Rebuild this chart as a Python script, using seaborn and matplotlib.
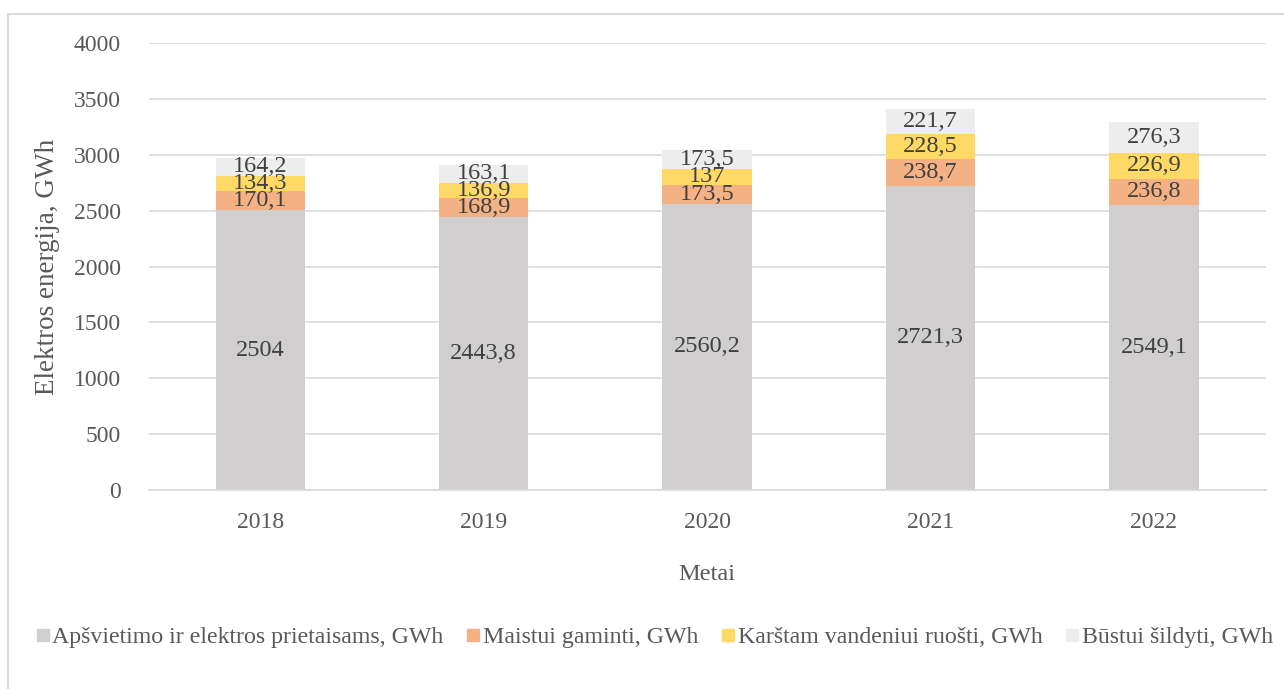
from matplotlib import pyplot as plt
from matplotlib.patches import Rectangle
from matplotlib.lines import Line2D
import seaborn as sns
import pandas as pd
import numpy as np

metai = ["2018", "2019", "2020", "2021", "2022"]
apsvietimas = [2504, 2443.8, 2560.2, 2721.3, 2549.1]
maistas = [170.1, 168.9, 173.5, 238.7, 236.8]
karstas_vanduo = [134.3, 136.9, 137, 228.5, 226.9]
sildymas = [164.2, 163.1, 173.5, 221.7, 276.3]

serijos = [
    ("Apšvietimo ir elektros prietaisams, GWh", apsvietimas, "#D0CECE"),
    ("Maistui gaminti, GWh", maistas, "#F4B183"),
    ("Karštam vandeniui ruošti, GWh", karstas_vanduo, "#FFD966"),
    ("Būstui šildyti, GWh", sildymas, "#EDEDED"),
]

sns.set_theme(style="white")
plt.rcParams["font.family"] = ["Liberation Serif", "DejaVu Serif"]
tekstas = "#404040"

figure = plt.figure(figsize=(12.84, 6.89), dpi=100)
axis = figure.add_axes([0.1157, 0.2888, 0.87, 0.6488])

reiksmes = np.array([s[1] for s in serijos])
sumos = np.cumsum(reiksmes, axis=0)

# piesiam nuo auksciausio, kad susidarytu sudeti stulpeliai
for i in range(len(serijos) - 1, -1, -1):
    df = pd.DataFrame({"Metai": metai, "Reiksme": sumos[i]})
    sns.barplot(data=df, x="Metai", y="Reiksme", color=serijos[i][2],
                saturation=1, width=0.4, linewidth=0, ax=axis, zorder=2)

for i, (vardas, vals, spalva) in enumerate(serijos):
    for j, v in enumerate(vals):
        apacia = sumos[i][j] - v
        txt = f"{v:g}".replace(".", ",")
        axis.text(j, apacia + v / 2, txt, ha="center", va="center",
                  fontsize=17.5, color=tekstas, zorder=3)

axis.set_ylim(0, 4000)
axis.set_yticks(range(0, 4001, 500))
axis.yaxis.grid(True, color="#D9D9D9", linewidth=1.2, zorder=0)
axis.set_axisbelow(True)
for s in ["top", "right", "left"]:
    axis.spines[s].set_visible(False)
axis.spines["bottom"].set_color("#D9D9D9")
axis.spines["bottom"].set_linewidth(1.2)
axis.tick_params(axis="both", length=0, labelsize=17, labelcolor="#595959")
axis.tick_params(axis="x", pad=16)
axis.tick_params(axis="y", pad=20)
axis.set_xlabel("Metai", fontsize=17.5, color="#595959", labelpad=22)
axis.set_ylabel("Elektros energija, GWh", fontsize=19.5, color="#595959", labelpad=10)

rankenos = [Line2D([], [], marker="s", linestyle="", markersize=9,
                   markerfacecolor=s[2], markeredgecolor=s[2]) for s in serijos]
figure.legend(rankenos, [s[0] for s in serijos], loc="center",
              bbox_to_anchor=(0.51, 0.075), ncol=4, frameon=False,
              fontsize=17.2, labelcolor="#595959", handlelength=0.5,
              handletextpad=0.15, columnspacing=1.0)

figure.patches.append(Rectangle((8 / 1284, -0.05), 1.2, 1 - 14 / 689 + 0.05,
                                transform=figure.transFigure, fill=False,
                                edgecolor="#D9D9D9", linewidth=1.5))

figure.savefig("out.png", dpi=100)
